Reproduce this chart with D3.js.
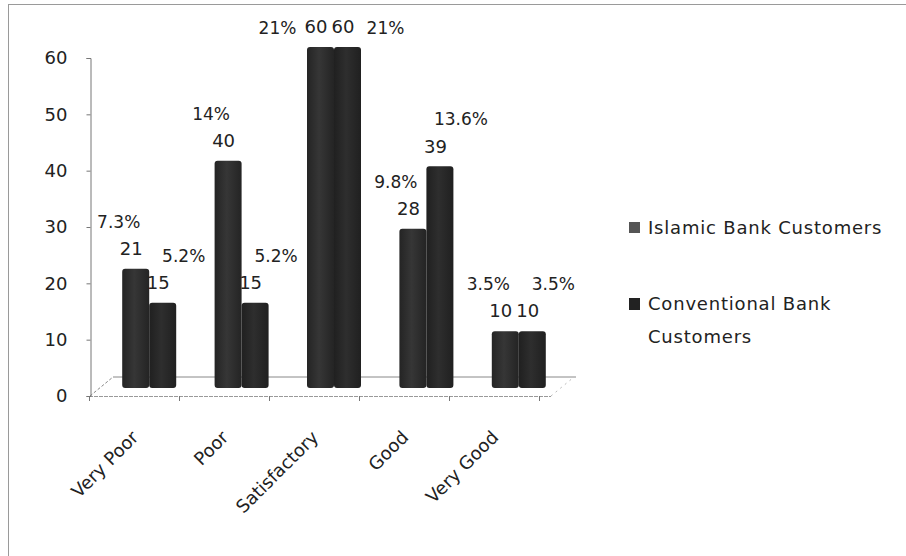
<!DOCTYPE html>
<html>
<head>
<meta charset="utf-8">
<script src="https://cdn.jsdelivr.net/npm/d3@7"></script>
<style>
  body { margin: 0; background: #fff; }
  svg text { font-family: "DejaVu Sans", "Noto Sans", sans-serif; fill: #222; }
</style>
</head>
<body>
<script>
// data
var categories = ["Very Poor", "Poor", "Satisfactory", "Good", "Very Good"];
var islamicValues = [21, 40, 60, 28, 10];
var conventionalValues = [15, 15, 60, 39, 10];
var islamicPct = ["7.3%", "14%", "21%", "9.8%", "3.5%"];
var conventionalPct = ["5.2%", "5.2%", "21%", "13.6%", "3.5%"];
var yTicks = [0, 10, 20, 30, 40, 50, 60];
var seriesNames = ["Islamic Bank Customers", "Conventional Bank Customers"];

var W = 906, H = 556;
var svg = d3.select("body").append("svg").attr("width", W).attr("height", H);

// chart border
svg.append("rect").attr("x", 8.5).attr("y", 4.5).attr("width", 960).attr("height", 600)
  .attr("fill", "none").attr("stroke", "#9a9a9a").attr("stroke-width", 1);

// scales: front plane for axes, shifted plane for the 3D bars
var y = d3.scaleLinear().domain([0, 60]).range([396, 58]);
var yBar = d3.scaleLinear().domain([0, 60]).range([388, 47]);
var xFront = d3.scaleBand().domain(categories).range([89, 539]);
var xBar = d3.scaleBand().domain(categories).range([103, 565]);
var bw = 27;

// floor
var floor = svg.append("g").attr("stroke", "#888").attr("fill", "none");
floor.append("line").attr("x1", 113).attr("y1", 377).attr("x2", 576).attr("y2", 377).attr("stroke-width", 1);
floor.append("line").attr("x1", 90).attr("y1", 396).attr("x2", 113).attr("y2", 377).attr("stroke-dasharray", "3,2");
floor.append("line").attr("x1", 551).attr("y1", 396).attr("x2", 574).attr("y2", 377).attr("stroke-dasharray", "2,4").attr("stroke", "#bbb");
floor.append("line").attr("x1", 89).attr("y1", 396.5).attr("x2", 551).attr("y2", 396.5).attr("stroke-dasharray", "4,1").attr("stroke", "#999");

// y axis
var yAxis = svg.append("g").attr("transform", "translate(90.5,0)")
  .call(d3.axisLeft(y).tickValues(yTicks).tickSize(4).tickPadding(19));
yAxis.select(".domain").attr("stroke", "#777");
yAxis.selectAll(".tick line").attr("stroke", "#777");
yAxis.selectAll(".tick text").style("font-size", "18px").style("font-family", "DejaVu Sans").attr("fill", "#222");

// x axis ticks
var xTickPos = categories.map(function (c) { return xFront(c); }).concat([xFront.range()[1]]);
svg.append("g").selectAll("line").data(xTickPos).enter().append("line")
  .attr("x1", function (d) { return d + 0.5; }).attr("x2", function (d) { return d + 0.5; })
  .attr("y1", 396).attr("y2", 401).attr("stroke", "#777");

// x labels
svg.append("g").selectAll("text").data(categories).enter().append("text")
  .attr("transform", function (d) {
    return "translate(" + (xFront(d) + xFront.bandwidth() / 2 + 1) + ",434) rotate(-45)";
  })
  .attr("text-anchor", "end")
  .attr("dy", "0.35em")
  .style("font-size", "18px")
  .text(function (d) { return d; });

// gradient for bars
var defs = svg.append("defs");
function grad(id, mid, edge) {
  var g = defs.append("linearGradient").attr("id", id).attr("x1", 0).attr("x2", 1);
  g.append("stop").attr("offset", "0%").attr("stop-color", edge);
  g.append("stop").attr("offset", "45%").attr("stop-color", mid);
  g.append("stop").attr("offset", "100%").attr("stop-color", edge);
}
grad("gIsl", "#363636", "#242424");
grad("gCon", "#2e2e2e", "#202020");

var rows = categories.map(function (c, i) {
  return { cat: c, isl: islamicValues[i], con: conventionalValues[i], ip: islamicPct[i], cp: conventionalPct[i] };
});

var bars = svg.append("g");
bars.selectAll("rect.isl").data(rows).enter().append("rect")
  .attr("x", function (d) { return xBar(d.cat) + xBar.bandwidth() / 2 - bw; })
  .attr("y", function (d) { return yBar(d.isl); })
  .attr("width", bw)
  .attr("height", function (d) { return yBar(0) - yBar(d.isl); })
  .attr("rx", 3).attr("fill", "url(#gIsl)");
bars.selectAll("rect.con").data(rows).enter().append("rect")
  .attr("x", function (d) { return xBar(d.cat) + xBar.bandwidth() / 2; })
  .attr("y", function (d) { return yBar(d.con); })
  .attr("width", bw)
  .attr("height", function (d) { return yBar(0) - yBar(d.con); })
  .attr("rx", 3).attr("fill", "url(#gCon)");

// labels
var labels = svg.append("g");
function addLabels(key, pkey, side) {
  rows.forEach(function (d) {
    var cx = xBar(d.cat) + xBar.bandwidth() / 2 + (side < 0 ? -bw / 2 : bw / 2);
    var vy = yBar(d[key]) - 20;
    labels.append("text").attr("x", cx - 4.5).attr("y", vy).attr("dy", "0.35em")
      .attr("text-anchor", "middle").style("font-size", "18px").text(d[key]);
    var py = vy - 27, px = cx + (side < 0 ? -17 : 21);
    if (py < 28) { py = 28; px = cx + (side < 0 ? -43 : 38); }
    labels.append("text").attr("x", px).attr("y", py).attr("dy", "0.35em")
      .attr("text-anchor", "middle").style("font-size", "17px").attr("fill", "#333").text(d[pkey]);
  });
}
addLabels("isl", "ip", -1);
addLabels("con", "cp", 1);

// legend
var legend = svg.append("g").style("letter-spacing", "0.8px");
legend.append("rect").attr("x", 629).attr("y", 222).attr("width", 11).attr("height", 11).attr("fill", "#555");
legend.append("text").attr("x", 648).attr("y", 228).attr("dy", "0.35em").style("font-size", "18px").text(seriesNames[0]);
legend.append("rect").attr("x", 629).attr("y", 298).attr("width", 11).attr("height", 12).attr("fill", "#222");
legend.append("text").attr("x", 648).attr("y", 304).attr("dy", "0.35em").style("font-size", "18px").text("Conventional Bank");
legend.append("text").attr("x", 648).attr("y", 337).attr("dy", "0.35em").style("font-size", "18px").text("Customers");
</script>
</body>
</html>
